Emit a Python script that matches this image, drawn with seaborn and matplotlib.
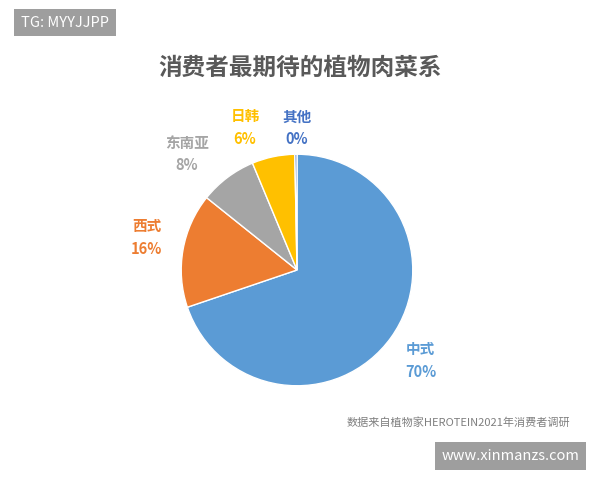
import matplotlib
matplotlib.use("Agg")
import matplotlib.pyplot as plt
import seaborn as sns
import numpy as np

sns.set_theme(style="white")
plt.rcParams['font.family'] = ['Noto Sans CJK SC', 'DejaVu Sans']

# data
cuisines = ['中式', '西式', '东南亚', '日韩', '其他']
shares = [70, 16, 8, 6, 0.3]
share_labels = ['70%', '16%', '8%', '6%', '0%']
colors = ['#5B9BD5', '#ED7D31', '#A5A5A5', '#FFC000', '#4472C4']

fig = plt.figure(figsize=(6, 4.8), dpi=100)
fig.patch.set_facecolor('white')

ax = fig.add_axes([0.495 - 0.197, 0.4375 - 0.246, 0.394, 0.492])
wedges, _ = ax.pie(shares, colors=colors, startangle=90, counterclock=False,
                   wedgeprops=dict(edgecolor='white', linewidth=1))
ax.set_aspect('equal')
ax.set_xlim(-1.02, 1.02)
ax.set_ylim(-1.02, 1.02)

# label anchor points (data units of the pie axes)
label_pos = {'中式': (1.07, -0.78), '西式': (-1.3, 0.28), '东南亚': (-0.95, 1.0),
             '日韩': (-0.45, 1.23), '其他': (0.0, 1.23)}
for w, name, pct, c in zip(wedges, cuisines, share_labels, colors):
    x, y = label_pos[name]
    ax.text(x, y, name + '\n' + pct, ha='center', va='center', color=c,
            fontsize=10.5, fontweight='bold', linespacing=1.5)

fig.text(0.5, 0.858, '消费者最期待的植物肉菜系', ha='center', va='center',
         fontsize=17, fontweight='bold', color='#595959')
fig.text(0.95, 0.12, '数据来自植物家HEROTEIN2021年消费者调研', ha='right', va='center',
         fontsize=8, color='#7f7f7f')
fig.text(0.035, 0.953, 'TG: MYYJJPP', ha='left', va='center', fontsize=10.5, color='white',
         bbox=dict(boxstyle='square,pad=0.45', fc='#9e9e9e', ec='none'))
fig.text(0.965, 0.05, 'www.xinmanzs.com', ha='right', va='center', fontsize=10.5, color='white',
         bbox=dict(boxstyle='square,pad=0.45', fc='#9e9e9e', ec='none'))

fig.savefig('out.png', dpi=100)
